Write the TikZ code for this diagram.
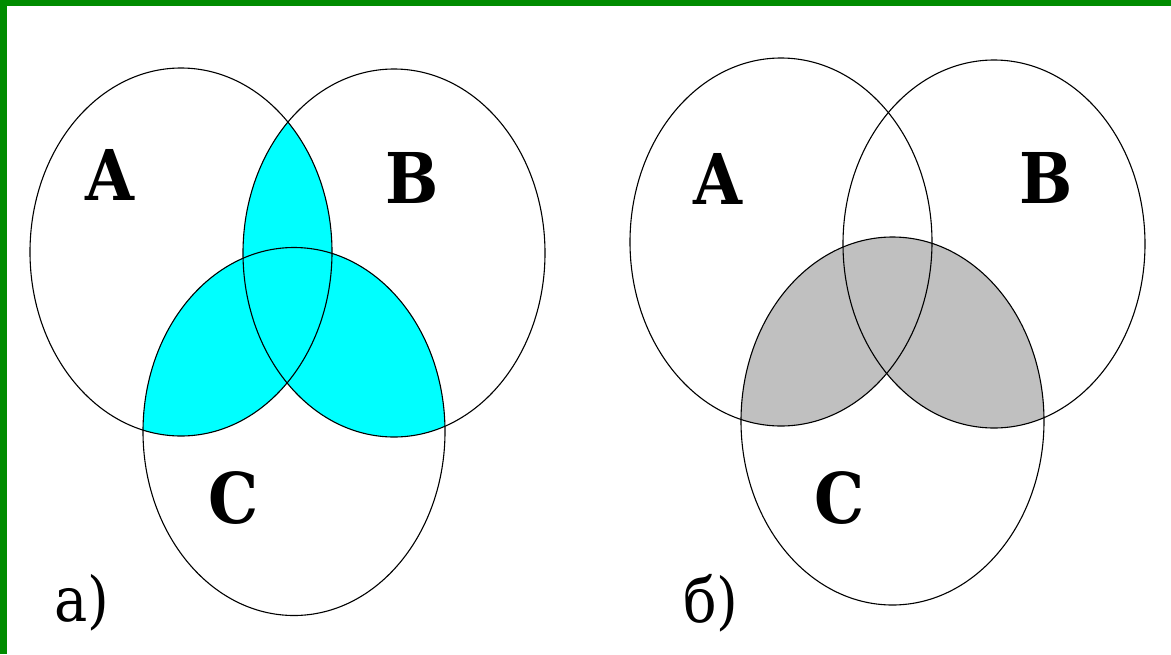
\documentclass[tikz,border=0pt]{standalone}
\usepackage{fontspec}
\newfontfamily\dvserif{DejaVu Serif Condensed}
\definecolor{framegreen}{RGB}{0,140,0}
\definecolor{fillcyan}{RGB}{0,255,255}
\definecolor{fillgray}{RGB}{192,192,192}
\tikzset{
  setline/.style={draw=black, line width=1.1pt},
  setlabel/.style={font=\dvserif\fontsize{70}{80}\selectfont\bfseries, inner sep=0pt, anchor=center},
  partlabel/.style={font=\dvserif\fontsize{62}{74}\selectfont, inner sep=0pt, anchor=center}
}
\begin{document}
\begin{tikzpicture}[x=1pt,y=-1pt]
\useasboundingbox (0,0) rectangle (1171,654);
\fill[white] (0,0) rectangle (1171,654);
% green frame
\fill[framegreen] (0,0) rectangle (1171,6);
\fill[framegreen] (0,0) rectangle (7,654);
% ---------- panel a ----------
\def\Aa{(181,252) ellipse [x radius=151, y radius=184]}
\def\Ba{(394,253) ellipse [x radius=151, y radius=184]}
\def\Ca{(294,431.5) ellipse [x radius=151, y radius=184]}
\begin{scope}\clip \Aa; \fill[fillcyan] \Ba; \end{scope}
\begin{scope}\clip \Aa; \fill[fillcyan] \Ca; \end{scope}
\begin{scope}\clip \Ba; \fill[fillcyan] \Ca; \end{scope}
\draw[setline] \Aa;
\draw[setline] \Ba;
\draw[setline] \Ca;
\node[setlabel] (la) at (110,175) {A};
\node[setlabel] (lb) at (412,178) {B};
\node[setlabel] (lc) at (234,498) {C};
\node[partlabel] (pa) at (82,603) {a)};
% ---------- panel b ----------
\def\Ab{(781,242) ellipse [x radius=151, y radius=184]}
\def\Bb{(994,244) ellipse [x radius=151, y radius=184]}
\def\Cb{(892.5,421) ellipse [x radius=151.5, y radius=184]}
\begin{scope}\clip \Cb; \fill[fillgray] \Ab; \fill[fillgray] \Bb; \end{scope}
\draw[setline] \Ab;
\draw[setline] \Bb;
\draw[setline] \Cb;
\node[setlabel] (lab) at (718,179) {A};
\node[setlabel] (lbb) at (1046,178) {B};
\node[setlabel] (lcb) at (840,498) {C};
\node[partlabel] (pb) at (711,603) {б)};
\end{tikzpicture}
\end{document}
